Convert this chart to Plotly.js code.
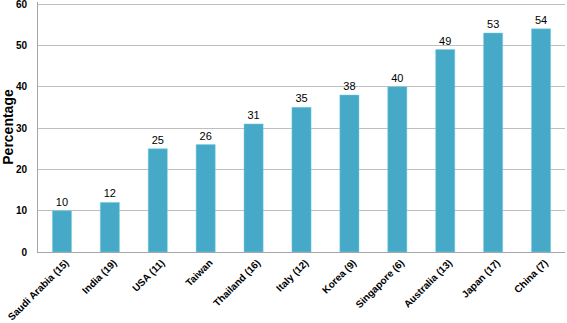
<!DOCTYPE html>
<html><head><meta charset="utf-8">
<script src="https://cdn.plot.ly/plotly-3.0.1.min.js"></script>
<style>html,body{margin:0;padding:0;background:#fff}#chart{width:567px;height:323px}</style>
</head><body><div id="chart"></div>
<script>
const categories = ["Saudi Arabia (15)","India (19)","USA (11)","Taiwan","Thailand (16)","Italy (12)","Korea (9)","Singapore (6)","Australia (13)","Japan (17)","China (7)"];
const values = [10,12,25,26,31,35,38,40,49,53,54];
const tickVals = [0,10,20,30,40,50,60];

Plotly.newPlot('chart', [{
  type: 'bar', x: categories, y: values,
  marker: {color: '#45A9C7', line: {color: '#7FD0E4', width: 0.5}},
  text: values.map(String), textposition: 'outside', cliponaxis: false,
  textfont: {family: 'Liberation Sans, Arial', size: 11, color: '#000'}
}], {
  width: 567, height: 323,
  margin: {l: 38, r: 2, t: 2, b: 71},
  bargap: 0.6,
  paper_bgcolor: '#fff', plot_bgcolor: '#fff',
  font: {family: 'Liberation Sans, Arial', color: '#000'},
  showlegend: false,
  xaxis: {tickangle: -45, tickfont: {size: 10, family: 'Liberation Sans, Arial', weight: 'bold'},
          ticklabelshift: 4, ticklabeloverflow: 'allow',
          showline: true, linecolor: '#A6A6A6', linewidth: 1, ticks: '', showgrid: false, automargin: false},
  yaxis: {range: [0, 60.5], tickvals: tickVals, showgrid: true, gridcolor: '#BFBFBF', gridwidth: 1,
          showline: true, linecolor: '#A6A6A6', linewidth: 1, zeroline: false, ticks: '',
          ticklabelstandoff: 8, ticklabeloverflow: 'allow',
          tickfont: {size: 10, weight: 'bold'}, automargin: false,
          title: {text: 'Percentage', font: {size: 14, weight: 'bold'}, standoff: 2}}
}, {displayModeBar: false, staticPlot: true});
</script></body></html>
